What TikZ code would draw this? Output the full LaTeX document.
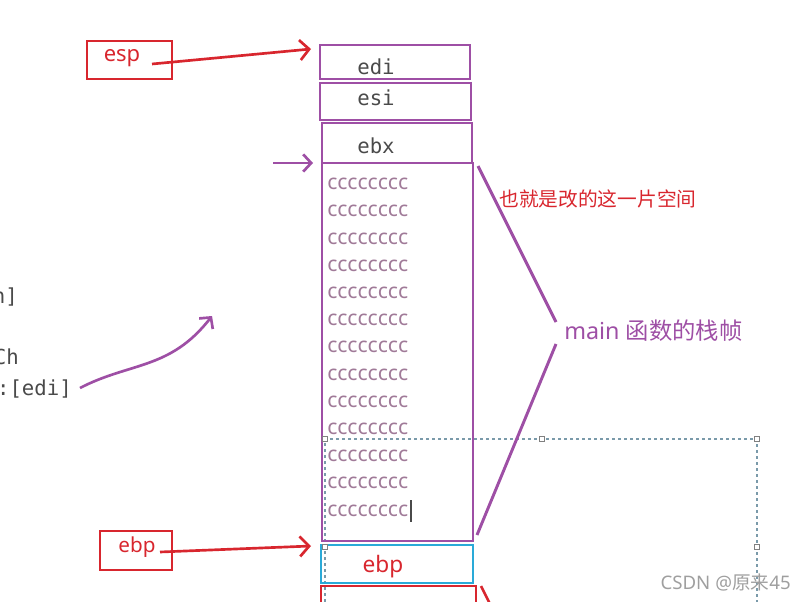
\documentclass[tikz,border=0pt]{standalone}
\usepackage{fontspec}
\setmainfont{Noto Sans}
\newfontfamily\cjk{Noto Sans CJK SC}
\newfontfamily\monof{DejaVu Sans Mono}
\usetikzlibrary{arrows.meta,fit}
\definecolor{bpurple}{HTML}{9E4FA5}
\definecolor{bred}{HTML}{D8262E}
\definecolor{bcyan}{HTML}{2AAAD8}
\definecolor{ctext}{HTML}{A07A98}
\definecolor{mono}{HTML}{4A4A4A}
\definecolor{dashc}{HTML}{7A9AAA}
\tikzset{
  px/.style={x=0.75pt,y=-0.75pt},
  cell/.style={draw=bpurple,line width=2.2pt,inner sep=0pt},
  redbox/.style={draw=bred,line width=2pt,inner sep=0pt},
  reg/.style={font=\monof\fontsize{15.5}{15.5}\selectfont,text=mono,inner sep=0pt},
  cc/.style={font=\fontsize{15.8}{15.8}\selectfont,text=ctext,inner sep=0pt,anchor=west},
  redarrow/.style={draw=bred,line width=2pt,-{Straight Barb[length=7pt,width=15pt,line width=2pt]}},
  purarrow/.style={draw=bpurple,line width=2pt,-{Straight Barb[length=6pt,width=13pt,line width=2pt]}},
  handle/.style={draw=gray,fill=white,line width=0.4pt,minimum size=3.5pt,inner sep=0pt},
  dashline/.style={draw=dashc,line width=0.8pt,dash pattern=on 2.5pt off 2pt},
}
\begin{document}
\begin{tikzpicture}[px]
\useasboundingbox (0,0) rectangle (806,602);
% dashed selection frame
\coordinate (d1) at (325,439);
\coordinate (d2) at (542,439);
\coordinate (d3) at (757,439);
\coordinate (d4) at (757,602);
\coordinate (d5) at (325,602);
\draw[dashline] (d5) -- (d1) -- (d3) -- (d4);
% stack cells
\node[cell,fit={(320,45)(470,79)}] (edi) {};
\node[reg] (tedi) at (376,67) {edi};
\node[cell,fit={(320,83)(471,120)}] (esi) {};
\node[reg] (tesi) at (376,98) {esi};
\node[cell,fit={(322,123)(472,163)}] (ebx) {};
\node[reg] (tebx) at (376,146) {ebx};
\node[cell,fit={(322,163)(473,541)}] (frame) {};
\foreach \i in {0,...,12}{
  \node[cc] (c\i) at (327,{184+27.2*\i}) {cccccccc};
}
\draw[mono,line width=0.8pt] (411,500) -- (411,522);
\node[draw=bcyan,line width=2.2pt,inner sep=0pt,fit={(321,545)(473,583)}] (ebpcell) {};
\node[font=\fontsize{17}{17}\selectfont,text=bred,inner sep=0pt] (tebpc) at (383,567) {ebp};
\node[redbox,fit={(321,586)(476,606)}] (next) {};
\coordinate (n1) at (481,586);
\coordinate (n2) at (491,606);
\draw[bred,line width=2pt] (n1) -- (n2);
% handles
\node[handle] (h1) at (d1) {};
\node[handle] (h2) at (d2) {};
\node[handle] (h3) at (d3) {};
\node[handle] (h4) at (757,547) {};
\node[handle] (h5) at (325,547) {};
% esp pointer
\node[redbox,minimum width=85*0.75pt,minimum height=38*0.75pt] (esp) at (129.5,60) {};
\node[font=\fontsize{16.5}{16.5}\selectfont,text=bred,inner sep=0pt] (tesp) at (122,58.5) {esp};
\coordinate (espend) at (311,49);
\draw[redarrow] (152,64) -- (espend);
% ebp pointer
\node[redbox,minimum width=72*0.75pt,minimum height=39*0.75pt] (ebpb) at (136,550.5) {};
\node[font=\fontsize{15.5}{15.5}\selectfont,text=bred,inner sep=0pt] (tebp) at (137,547) {ebp};
\coordinate (ebpend) at (311,546);
\draw[redarrow] (160,552) -- (ebpend);
% purple small arrow
\coordinate (pa1) at (273,163);
\coordinate (pa2) at (313,163);
\draw[purarrow] (pa1) -- (pa2);
% bracket lines
\coordinate (b1) at (478,166);
\coordinate (b2) at (556,322);
\coordinate (b3) at (556,344);
\coordinate (b4) at (477,535);
\draw[bpurple,line width=2.2pt] (b1) -- (b2);
\draw[bpurple,line width=2.2pt] (b3) -- (b4);
\node[font=\cjk\fontsize{14.8}{14.8}\selectfont,text=bred,anchor=west,inner sep=0pt] (note) at (499,199) {也就是改的这一片空间};
\node[font=\fontsize{17.5}{17.5}\selectfont,text=bpurple,anchor=west,inner sep=0pt] (mainf) at (564,331) {main {\cjk 函数的栈帧}};
% left code fragments
\node[reg,anchor=east] (l1) at (18,297) {n]};
\node[reg,anchor=east] (l2) at (19,357) {Ch};
\node[reg,anchor=east] (l3) at (72,389) {:[edi]};
% curvy arrow
\coordinate (ca1) at (80,388);
\coordinate (ca2) at (212,316);
\draw[purarrow] (ca1) .. controls (130,362) and (170,370) .. (ca2);
% watermark
\node[font=\fontsize{14}{14}\selectfont,text=gray!75,anchor=east,inner sep=0pt] (wm) at (791,582) {CSDN @{\cjk 原来}45};
\end{tikzpicture}
\end{document}
